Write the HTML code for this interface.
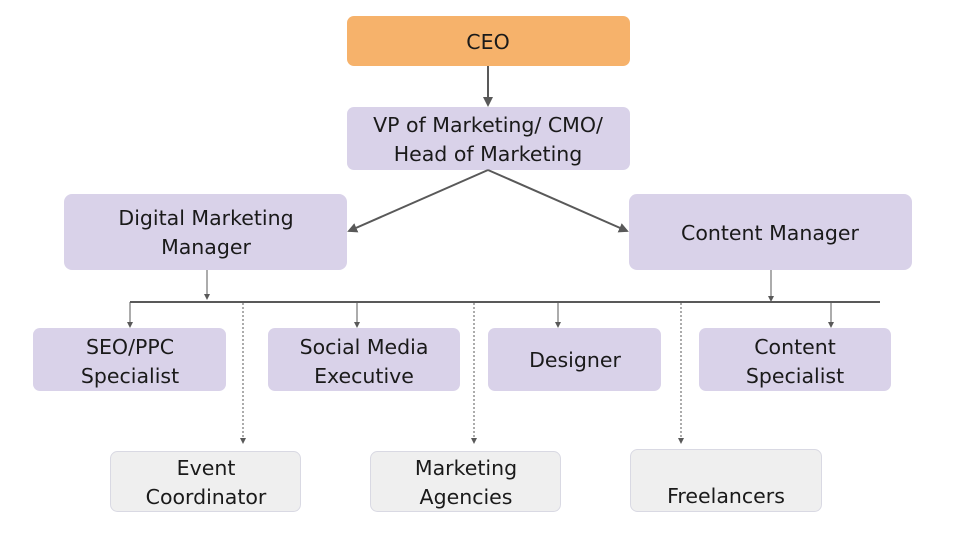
<!DOCTYPE html>
<html><head><meta charset="utf-8"><style>
html,body{margin:0;padding:0;background:#fff;}
svg{display:block;}
text{font-family:"DejaVu Sans","Liberation Sans",sans-serif;font-size:20.5px;fill:#1a1a1a;text-anchor:middle;}
</style></head><body>
<svg width="960" height="540" viewBox="0 0 960 540" xmlns="http://www.w3.org/2000/svg">
<defs>
<marker id="a" markerWidth="10" markerHeight="10" refX="8" refY="5" orient="auto" markerUnits="userSpaceOnUse"><path d="M0,0 L10,5 L0,10 z" fill="#595959"/></marker>
<marker id="s" markerWidth="6" markerHeight="6" refX="5" refY="3" orient="auto" markerUnits="userSpaceOnUse"><path d="M0,0 L6,3 L0,6 z" fill="#595959"/></marker>
</defs>
<rect x="347" y="16" width="283" height="50" rx="7" fill="#f6b26b"/>
<rect x="347" y="107" width="283" height="63" rx="7" fill="#d9d2e9"/>
<rect x="64" y="194" width="283" height="76" rx="8" fill="#d9d2e9"/>
<rect x="629" y="194" width="283" height="76" rx="8" fill="#d9d2e9"/>
<rect x="33" y="328" width="193" height="63" rx="7" fill="#d9d2e9"/>
<rect x="268" y="328" width="192" height="63" rx="7" fill="#d9d2e9"/>
<rect x="488" y="328" width="173" height="63" rx="7" fill="#d9d2e9"/>
<rect x="699" y="328" width="192" height="63" rx="7" fill="#d9d2e9"/>
<rect x="110.5" y="451.5" width="190" height="60" rx="7" fill="#efefef" stroke="#d9d9e3"/>
<rect x="370.5" y="451.5" width="190" height="60" rx="7" fill="#efefef" stroke="#d9d9e3"/>
<rect x="630.5" y="449.5" width="191" height="62" rx="7" fill="#efefef" stroke="#d9d9e3"/>
<g stroke="#595959" fill="none">
<line x1="488" y1="66" x2="488" y2="105" stroke-width="2" marker-end="url(#a)"/>
<line x1="488" y1="170" x2="349" y2="231" stroke-width="2" marker-end="url(#a)"/>
<line x1="488" y1="170" x2="627" y2="231" stroke-width="2" marker-end="url(#a)"/>
<line x1="130" y1="302" x2="880" y2="302" stroke-width="2"/>
<line x1="207" y1="270" x2="207" y2="299" stroke-width="1" marker-end="url(#s)"/>
<line x1="771" y1="270" x2="771" y2="301" stroke-width="1" marker-end="url(#s)"/>
<line x1="130" y1="302" x2="130" y2="327" stroke-width="1" marker-end="url(#s)"/>
<line x1="357" y1="302" x2="357" y2="327" stroke-width="1" marker-end="url(#s)"/>
<line x1="558" y1="302" x2="558" y2="327" stroke-width="1" marker-end="url(#s)"/>
<line x1="831" y1="302" x2="831" y2="327" stroke-width="1" marker-end="url(#s)"/>
<line x1="243" y1="303" x2="243" y2="443" stroke-width="1" stroke-dasharray="2,2" marker-end="url(#s)"/>
<line x1="474" y1="303" x2="474" y2="443" stroke-width="1" stroke-dasharray="2,2" marker-end="url(#s)"/>
<line x1="681" y1="303" x2="681" y2="443" stroke-width="1" stroke-dasharray="2,2" marker-end="url(#s)"/>
</g>
<text x="488" y="49">CEO</text>
<text x="488" y="132">VP of Marketing/ CMO/</text>
<text x="488" y="161">Head of Marketing</text>
<text x="206" y="225">Digital Marketing</text>
<text x="206" y="254">Manager</text>
<text x="770" y="240">Content Manager</text>
<text x="130" y="354">SEO/PPC</text>
<text x="130" y="383">Specialist</text>
<text x="364" y="354">Social Media</text>
<text x="364" y="383">Executive</text>
<text x="575" y="367">Designer</text>
<text x="795" y="354">Content</text>
<text x="795" y="383">Specialist</text>
<text x="206" y="475">Event</text>
<text x="206" y="504">Coordinator</text>
<text x="466" y="475">Marketing</text>
<text x="466" y="504">Agencies</text>
<text x="726" y="503">Freelancers</text>
</svg>
</body></html>
